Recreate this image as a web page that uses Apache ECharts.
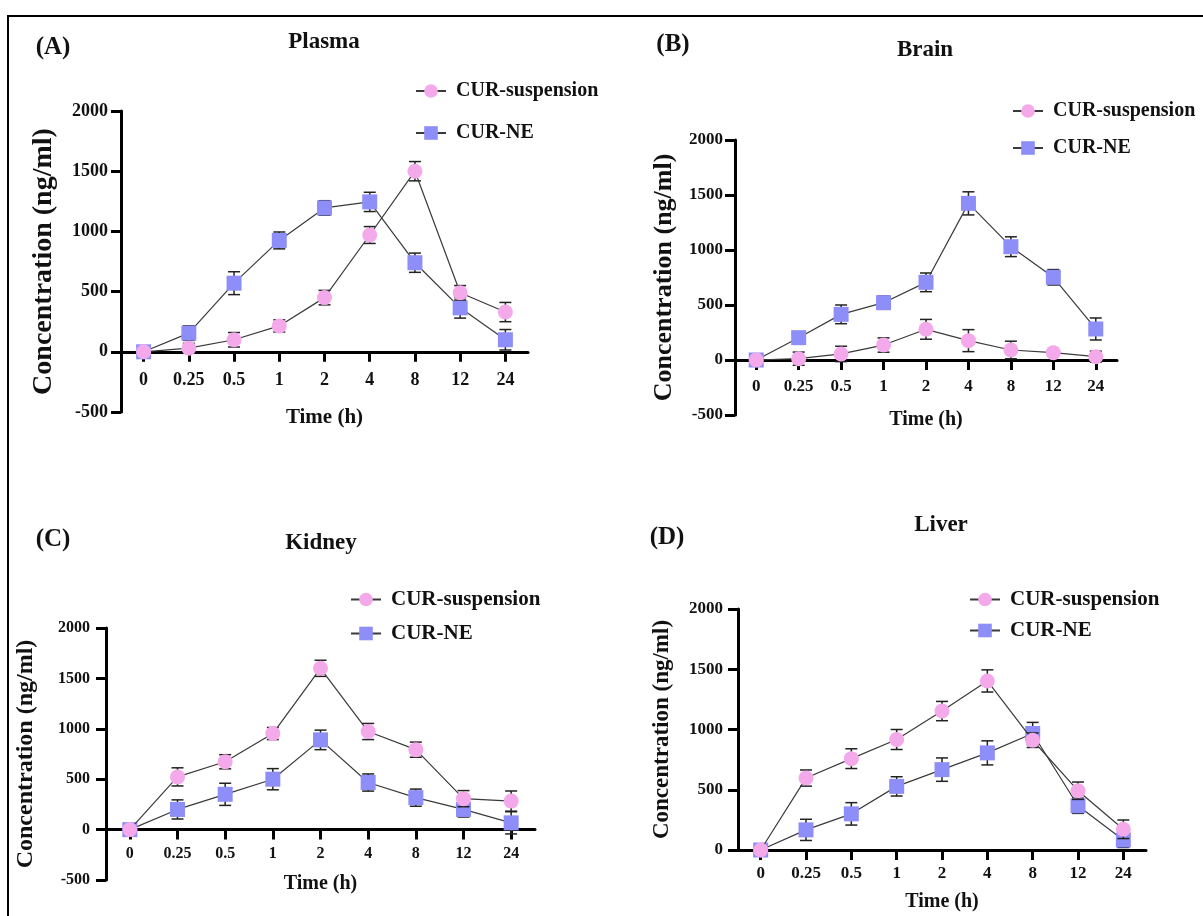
<!DOCTYPE html>
<html>
<head>
<meta charset="utf-8">
<title>CUR biodistribution</title>
<script src="https://cdn.jsdelivr.net/npm/echarts@6.0.0/dist/echarts.min.js"></script>
<style>
  html, body { margin: 0; padding: 0; background: #fff; }
  #main { width: 1203px; height: 916px; }
</style>
</head>
<body>
<div id="main"></div>
<script>
var times = ['0', '0.25', '0.5', '1', '2', '4', '8', '12', '24'];
var seriesNames = ['CUR-suspension', 'CUR-NE'];

// values (ng/ml), with error bar half-heights
var plasmaSus = [0, 30, 100, 215, 450, 970, 1500, 490, 330];
var plasmaSusErr = [0, 40, 60, 50, 60, 70, 80, 60, 80];
var plasmaNe = [0, 155, 570, 925, 1195, 1245, 740, 365, 100];
var plasmaNeErr = [0, 60, 95, 70, 60, 80, 80, 85, 85];

var brainSus = [0, 12, 55, 136, 279, 176, 91, 67, 30];
var brainSusErr = [0, 60, 70, 65, 90, 100, 80, 20, 50];
var brainNe = [0, 203, 415, 521, 706, 1424, 1030, 752, 282];
var brainNeErr = [0, 40, 85, 60, 85, 105, 90, 70, 100];

var kidneySus = [0, 523, 673, 953, 1600, 973, 793, 307, 283];
var kidneySusErr = [0, 90, 70, 60, 80, 80, 75, 80, 100];
var kidneyNe = [0, 200, 350, 500, 890, 467, 317, 200, 67];
var kidneyNeErr = [0, 95, 110, 105, 97, 85, 85, 75, 110];

var liverSus = [0, 597, 758, 917, 1153, 1403, 911, 492, 172];
var liverSusErr = [0, 67, 82, 83, 80, 92, 60, 72, 77];
var liverNe = [0, 167, 300, 528, 667, 806, 967, 367, 83];
var liverNeErr = [0, 88, 93, 80, 97, 100, 92, 63, 62];

var yMax = 2000;

var pink = '#f4a9ea';
var blue = '#8e8ef8';
var font = 'Liberation Serif';
var tickColor = '#000';

var panels = [
  { tag: '(A)', tagPos: [53, 48], title: 'Plasma', titlePos: [324, 42], sus: plasmaSus, susErr: plasmaSusErr, ne: plasmaNe, neErr: plasmaNeErr,
    grid: { left: 121, top: 111, width: 407, height: 301 }, ymin: -500, tickFont: 18, yMargin: 13, xMargin: 20,
    nameFont: 28, nameGap: 63, timeFont: 21, timeGap: 55, legend: { left: 410, top: 76, gap: 22, font: 20 } },
  { tag: '(B)', tagPos: [673, 45], title: 'Brain', titlePos: [925, 50], sus: brainSus, susErr: brainSusErr, ne: brainNe, neErr: brainNeErr,
    grid: { left: 735, top: 140, width: 382, height: 275 }, ymin: -500, tickFont: 17, yMargin: 12, xMargin: 18,
    nameFont: 26, nameGap: 58, timeFont: 20, timeGap: 50, legend: { left: 1007, top: 96, gap: 17, font: 20 } },
  { tag: '(C)', tagPos: [53, 540], title: 'Kidney', titlePos: [321, 543], sus: kidneySus, susErr: kidneySusErr, ne: kidneyNe, neErr: kidneyNeErr,
    grid: { left: 106, top: 628, width: 429, height: 252 }, ymin: -500, tickFont: 16, yMargin: 16, xMargin: 16,
    nameFont: 24, nameGap: 68, timeFont: 20, timeGap: 44, legend: { left: 345, top: 584, gap: 13, font: 21 } },
  { tag: '(D)', tagPos: [667, 538], title: 'Liver', titlePos: [941, 525], sus: liverSus, susErr: liverSusErr, ne: liverNe, neErr: liverNeErr,
    grid: { left: 738, top: 609, width: 408, height: 241 }, ymin: 0, tickFont: 17, yMargin: 15, xMargin: 15,
    nameFont: 23, nameGap: 64, timeFont: 20, timeGap: 42, legend: { left: 964, top: 584, gap: 10, font: 21 } }
];

function errBars(gi, vals, errs, z) {
  return {
    type: 'custom', name: 'err' + gi + '_' + z, xAxisIndex: gi, yAxisIndex: gi, z: z, silent: true,
    data: vals.map(function (v, i) { return [i, v - errs[i], v + errs[i]]; }),
    renderItem: function (params, api) {
      if (api.value(2) - api.value(1) <= 0) return;
      var lo = api.coord([api.value(0), api.value(1)]);
      var hi = api.coord([api.value(0), api.value(2)]);
      var w = 6;
      var st = { stroke: '#222', lineWidth: 1.5 };
      return { type: 'group', children: [
        { type: 'line', shape: { x1: lo[0], y1: lo[1], x2: hi[0], y2: hi[1] }, style: st },
        { type: 'line', shape: { x1: lo[0] - w, y1: lo[1], x2: lo[0] + w, y2: lo[1] }, style: st },
        { type: 'line', shape: { x1: hi[0] - w, y1: hi[1], x2: hi[0] + w, y2: hi[1] }, style: st }
      ] };
    }
  };
}

var grids = [], xAxes = [], yAxes = [], series = [], legends = [];
var graphics = [{
  type: 'rect', shape: { x: 8, y: 16, width: 1400, height: 1100 },
  style: { fill: 'none', stroke: '#000', lineWidth: 2 }, silent: true
}];

panels.forEach(function (p, gi) {
  grids.push(p.grid);
  // x axis sits on the zero line: lift the whole axis (line, ticks, labels, name) up from the grid bottom
  var lift = p.grid.height * (0 - p.ymin) / (yMax - p.ymin);
  xAxes.push({
    type: 'category', gridIndex: gi, data: times, boundaryGap: true, position: 'bottom', offset: -lift,
    name: 'Time (h)', nameLocation: 'middle', nameGap: p.timeGap,
    nameTextStyle: { fontFamily: font, fontWeight: 'bold', fontSize: p.timeFont, color: '#111' },
    axisLine: { onZero: false, lineStyle: { color: '#000', width: 3 } },
    axisTick: { show: true, alignWithLabel: true, length: 10, lineStyle: { color: tickColor, width: 3 } },
    axisLabel: { fontFamily: font, fontWeight: 'bold', fontSize: p.tickFont, color: '#111', margin: p.xMargin },
    splitLine: { show: false }
  });
  yAxes.push({
    type: 'value', gridIndex: gi, min: p.ymin, max: yMax, interval: 500,
    name: 'Concentration (ng/ml)', nameLocation: 'middle', nameGap: p.nameGap,
    nameTextStyle: { fontFamily: font, fontWeight: 'bold', fontSize: p.nameFont, color: '#111' },
    axisLine: { show: true, lineStyle: { color: '#000', width: 3 } },
    axisTick: { show: true, length: 10, lineStyle: { color: tickColor, width: 3 } },
    axisLabel: { fontFamily: font, fontWeight: 'bold', fontSize: p.tickFont, color: '#111', margin: p.yMargin,
      formatter: function (v) { return String(v); } },
    splitLine: { show: false }
  });

  series.push(errBars(gi, p.ne, p.neErr, 2));
  series.push(errBars(gi, p.sus, p.susErr, 4));
  series.push({
    name: 'CUR-NE', type: 'line', xAxisIndex: gi, yAxisIndex: gi, data: p.ne, z: 3,
    symbol: 'rect', symbolSize: 15, itemStyle: { color: blue },
    lineStyle: { color: '#3a3a3a', width: 1.2 }
  });
  series.push({
    name: 'CUR-suspension', type: 'line', xAxisIndex: gi, yAxisIndex: gi, data: p.sus, z: 5,
    symbol: 'circle', symbolSize: 15, itemStyle: { color: pink },
    lineStyle: { color: '#3a3a3a', width: 1.2 }
  });

  legends.push({
    data: seriesNames, orient: 'vertical', left: p.legend.left, top: p.legend.top,
    itemWidth: 30, itemHeight: 17, itemGap: p.legend.gap,
    textStyle: { fontFamily: font, fontWeight: 'bold', fontSize: p.legend.font, color: '#111', padding: [0, 0, 0, 5] }
  });

  graphics.push({
    type: 'text', x: p.tagPos[0], y: p.tagPos[1], silent: true,
    style: { text: p.tag, font: 'bold 25px "Liberation Serif"', fill: '#111', align: 'center', verticalAlign: 'middle' }
  });
  graphics.push({
    type: 'text', x: p.titlePos[0], y: p.titlePos[1], silent: true,
    style: { text: p.title, font: 'bold 23px "Liberation Serif"', fill: '#111', align: 'center', verticalAlign: 'middle' }
  });
});

var chart = echarts.init(document.getElementById('main'));
chart.setOption({
  backgroundColor: '#fff',
  animation: false,
  grid: grids,
  xAxis: xAxes,
  yAxis: yAxes,
  legend: legends,
  series: series,
  graphic: graphics
});
</script>
</body>
</html>
